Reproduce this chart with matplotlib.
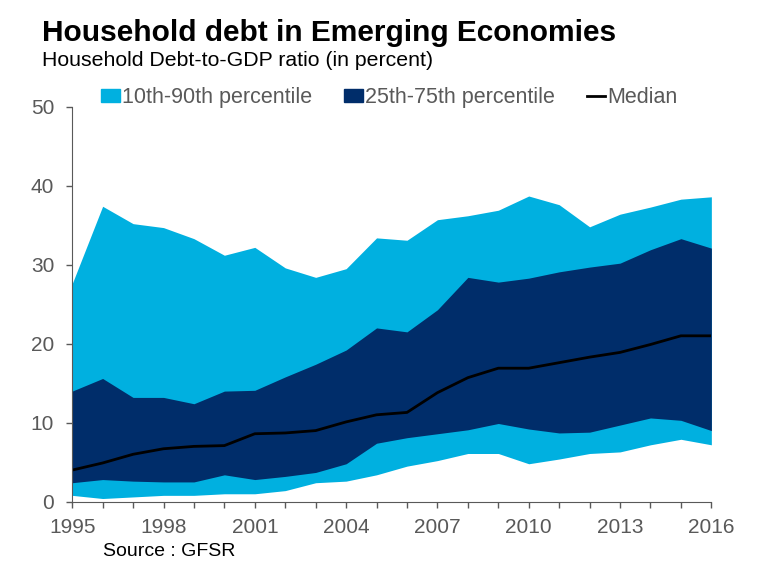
import matplotlib
matplotlib.use("Agg")
import matplotlib.pyplot as plt
from matplotlib.patches import Patch
from matplotlib.lines import Line2D

plt.rcParams["font.family"] = ["Liberation Sans", "DejaVu Sans"]

years = list(range(1995, 2017))
p10 = [0.8, 0.4, 0.6, 0.8, 0.8, 1.0, 1.0, 1.4, 2.4, 2.6, 3.4, 4.5, 5.2, 6.1, 6.1, 4.8,
       5.4, 6.1, 6.3, 7.2, 7.9, 7.2]
p25 = [2.4, 2.8, 2.6, 2.5, 2.5, 3.4, 2.8, 3.2, 3.7, 4.8, 7.4, 8.1, 8.6, 9.1, 9.9, 9.2,
       8.7, 8.8, 9.7, 10.6, 10.3, 9.0]
median = [4.0, 4.9, 6.0, 6.7, 7.0, 7.1, 8.6, 8.7, 9.0, 10.1, 11.0, 11.3, 13.8, 15.7, 16.9,
          16.9, 17.6, 18.3, 18.9, 19.9, 21.0, 21.0]
p75 = [14.0, 15.6, 13.2, 13.2, 12.4, 14.0, 14.1, 15.8, 17.4, 19.2, 22.0, 21.5, 24.3, 28.4,
       27.8, 28.3, 29.1, 29.7, 30.2, 31.9, 33.3, 32.1]
p90 = [27.6, 37.4, 35.2, 34.7, 33.3, 31.2, 32.2, 29.6, 28.4, 29.5, 33.4, 33.1, 35.7, 36.2,
       36.9, 38.7, 37.6, 34.8, 36.4, 37.3, 38.3, 38.6]

light = "#00b0e0"
dark = "#002d6a"
grey = "#595959"

fig = plt.figure(figsize=(7.6, 5.74), dpi=100)
ax = fig.add_axes([0.095, 0.126, 0.841, 0.688])

ax.fill_between(years, p10, p90, color=light, linewidth=0)
ax.fill_between(years, p25, p75, color=dark, linewidth=0)
ax.plot(years, median, color="black", linewidth=2)

ax.set_xlim(1995, 2016)
ax.set_ylim(0, 50)
ax.set_xticks(years, minor=True)
ax.set_xticks(range(1995, 2017, 3))
ax.set_yticks(range(0, 51, 10))
ax.tick_params(axis="both", which="both", colors=grey, labelsize=15, direction="out")
ax.tick_params(axis="x", which="both", length=4, width=1, pad=8)
ax.tick_params(axis="y", length=4, width=1, pad=9)
for s in ["top", "right"]:
    ax.spines[s].set_visible(False)
for s in ["left", "bottom"]:
    ax.spines[s].set_color(grey)

fig.text(0.055, 0.942, "Household debt in Emerging Economies", fontsize=21.5,
         fontweight="bold", va="center")
fig.text(0.055, 0.895, "Household Debt-to-GDP ratio (in percent)", fontsize=15.3,
         va="center")
fig.text(0.135, 0.039, "Source : GFSR", fontsize=14, va="center")

handles = [Patch(color=light), Patch(color=dark), Line2D([], [], color="black", lw=2)]
labels = ["10th-90th percentile", "25th-75th percentile", "Median"]
leg = fig.legend(handles, labels, loc="center left", bbox_to_anchor=(0.108, 0.83),
                 ncol=3, frameon=False, fontsize=15.5, handlelength=0.85, handleheight=0.6,
                 handletextpad=0.1, columnspacing=1.5)
for t in leg.get_texts():
    t.set_color(grey)

fig.savefig("out.png", dpi=100)
